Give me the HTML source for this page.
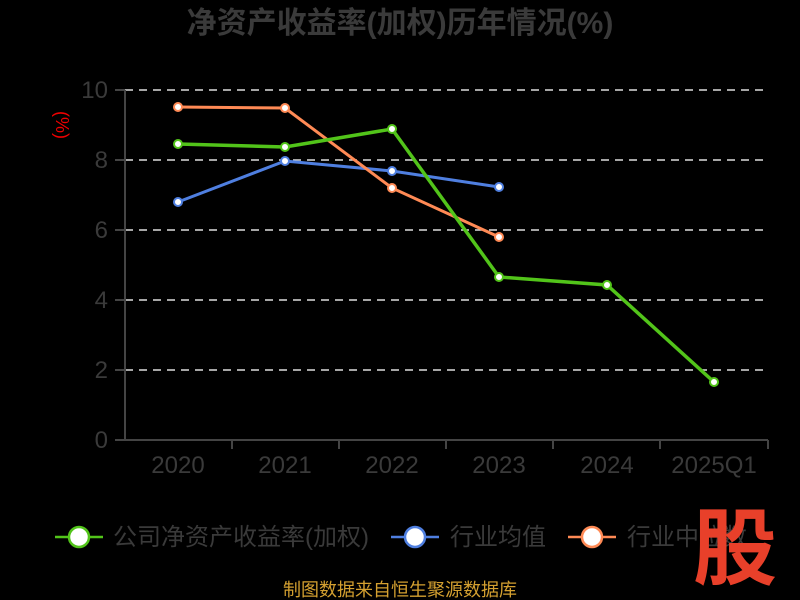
<!DOCTYPE html><html><head><style>body{margin:0;background:#000;}svg{display:block}</style></head><body>
<svg width="800" height="600" xmlns="http://www.w3.org/2000/svg" font-family="Liberation Sans, Noto Sans CJK SC, sans-serif">
<rect width="800" height="600" fill="#000"/>
<text x="400" y="33" text-anchor="middle" font-size="30" font-weight="bold" fill="#3a3a3a">净资产收益率(加权)历年情况(%)</text>
<text x="62" y="125" font-size="18" fill="#e00" text-anchor="middle" transform="rotate(90 62 125)" dy="6">(%)</text>
<g stroke="#ddd" stroke-width="1.5" stroke-dasharray="8,6">
<line x1="125" y1="90" x2="768" y2="90"/><line x1="125" y1="160" x2="768" y2="160"/><line x1="125" y1="230" x2="768" y2="230"/><line x1="125" y1="300" x2="768" y2="300"/><line x1="125" y1="370" x2="768" y2="370"/></g>
<g stroke="#444" stroke-width="2"><line x1="125" y1="90" x2="125" y2="440"/><line x1="125" y1="440" x2="768" y2="440"/>
<line x1="115" y1="90" x2="125" y2="90"/><line x1="115" y1="160" x2="125" y2="160"/><line x1="115" y1="230" x2="125" y2="230"/><line x1="115" y1="300" x2="125" y2="300"/><line x1="115" y1="370" x2="125" y2="370"/><line x1="115" y1="440" x2="125" y2="440"/>
<line x1="232" y1="440" x2="232" y2="449"/><line x1="339" y1="440" x2="339" y2="449"/><line x1="446" y1="440" x2="446" y2="449"/><line x1="553" y1="440" x2="553" y2="449"/><line x1="660" y1="440" x2="660" y2="449"/><line x1="768" y1="440" x2="768" y2="449"/></g>
<g font-size="24" fill="#3a3a3a" text-anchor="end"><text x="108" y="98">10</text><text x="108" y="168">8</text><text x="108" y="238">6</text><text x="108" y="308">4</text><text x="108" y="378">2</text><text x="108" y="448">0</text></g>
<g font-size="24" fill="#3a3a3a" text-anchor="middle"><text x="178" y="473">2020</text><text x="285" y="473">2021</text><text x="392" y="473">2022</text><text x="499" y="473">2023</text><text x="607" y="473">2024</text><text x="714" y="473">2025Q1</text></g>
<polyline fill="none" stroke="#4f7fe0" stroke-width="3" points="178,202 285,161 392,171 499,187"/>
<polyline fill="none" stroke="#ff8a55" stroke-width="3" points="178,107 285,108 392,188 499,237"/>
<polyline fill="none" stroke="#52c41a" stroke-width="3.5" points="178,144 285,147 392,129 499,277 607,285 714,382"/>
<g fill="#fff" stroke-width="2">
<g stroke="#4f7fe0"><circle cx="178" cy="202" r="4"/><circle cx="285" cy="161" r="4"/><circle cx="392" cy="171" r="4"/><circle cx="499" cy="187" r="4"/></g>
<g stroke="#ff8a55"><circle cx="178" cy="107" r="4"/><circle cx="285" cy="108" r="4"/><circle cx="392" cy="188" r="4"/><circle cx="499" cy="237" r="4"/></g>
<g stroke="#52c41a"><circle cx="178" cy="144" r="4"/><circle cx="285" cy="147" r="4"/><circle cx="392" cy="129" r="4"/><circle cx="499" cy="277" r="4"/><circle cx="607" cy="285" r="4"/><circle cx="714" cy="382" r="4"/></g></g>
<g stroke-width="2.5" fill="#fff">
<line x1="55" y1="537" x2="103" y2="537" stroke="#52c41a"/><circle cx="79" cy="537" r="10" stroke="#52c41a"/>
<line x1="391" y1="537" x2="439" y2="537" stroke="#4f7fe0"/><circle cx="415" cy="537" r="10" stroke="#4f7fe0"/>
<line x1="568" y1="537" x2="616" y2="537" stroke="#ff8a55"/><circle cx="592" cy="537" r="10" stroke="#ff8a55"/></g>
<g font-size="24" fill="#3a3a3a"><text x="113" y="545">公司净资产收益率(加权)</text><text x="450" y="545">行业均值</text><text x="627" y="545">行业中位数</text></g>
<text x="735" y="578" text-anchor="middle" font-size="84" font-weight="bold" fill="#e8402a">股</text>
<text x="400" y="596" text-anchor="middle" font-size="18" fill="#d4a030">制图数据来自恒生聚源数据库</text>
</svg></body></html>
